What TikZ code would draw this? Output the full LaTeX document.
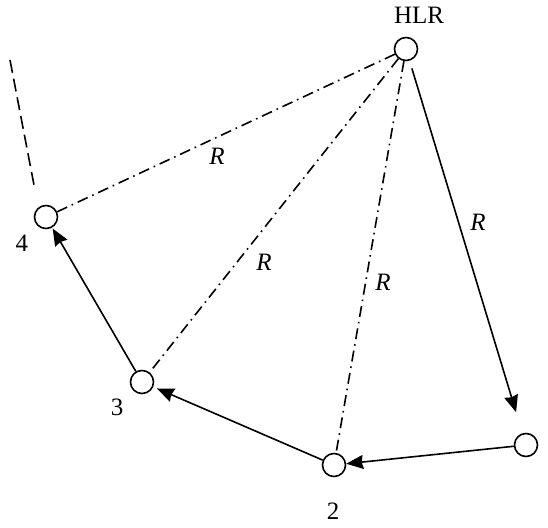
\documentclass[tikz,border=0pt]{standalone}
\usepackage{fontspec}
\setmainfont{Liberation Serif}
\usetikzlibrary{arrows.meta}
\begin{document}
\begin{tikzpicture}[x=1pt,y=-1pt,
  station/.style={circle,draw,line width=1.6pt,minimum size=23pt,inner sep=0pt},
  lbl/.style={font=\fontsize{25}{29}\selectfont},
  rl/.style={font=\fontsize{25}{29}\selectfont\itshape},
  arr/.style={line width=1.6pt,-{Stealth[length=17pt,width=14pt,inset=1.5pt]}},
  dd/.style={line width=1.6pt,dash pattern=on 11pt off 5pt on 1.6pt off 5pt},
  dsh/.style={line width=1.6pt,dash pattern=on 13pt off 6pt},
]
\useasboundingbox (0,0) rectangle (548,527);
\node[station] (hlr) at (406,49) {};
\node[station] (n4) at (46,217) {};
\node[station] (n3) at (142,382) {};
\node[station] (n2) at (334,465) {};
\node[station] (n1) at (526,445) {};

\node[lbl] (thlr) at (419,15) {HLR};
\node[lbl] (t4) at (22,243) {4};
\node[lbl] (t3) at (117,407) {3};
\node[lbl] (t2) at (333,511) {2};

\draw[dd] (hlr) -- (n4);
\draw[dd] (hlr) -- (n3);
\draw[dd] (hlr) -- (n2);

\draw[arr, shorten <=8pt, shorten >=22pt] (hlr) -- (n1);
\draw[arr] (n1) -- (n2);
\draw[arr, shorten >=4pt] (n2) -- (n3);
\draw[arr, shorten >=1pt] (n3) -- (n4);

\coordinate (dtop) at (10,60);
\coordinate (dbot) at (34,185);
\draw[dsh] (dtop) -- (dbot);

\node[rl] (r1) at (217,156) {R};
\node[rl] (r2) at (264,262) {R};
\node[rl] (r3) at (383,282) {R};
\node[rl] (r4) at (478,222) {R};
\end{tikzpicture}
\end{document}
